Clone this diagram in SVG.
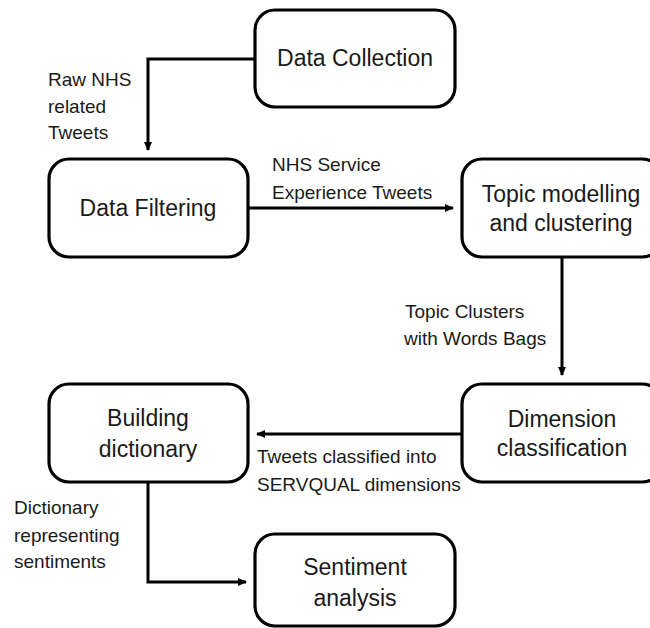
<svg xmlns="http://www.w3.org/2000/svg" width="650" height="628" viewBox="0 0 650 628">
<defs>
<marker id="ah" markerWidth="10" markerHeight="10" refX="8" refY="5" orient="auto" markerUnits="userSpaceOnUse">
<path d="M0,1 L9,5 L0,9 Z" fill="#000"/>
</marker>
<style>
.box{fill:#fff;stroke:#000;stroke-width:3.2}
.t{font-family:"Liberation Sans",Arial,sans-serif;font-size:23px;fill:#1a1a1a;text-anchor:middle}
.l{font-family:"Liberation Sans",Arial,sans-serif;font-size:19px;fill:#1a1a1a}
.c{fill:none;stroke:#000;stroke-width:3}
</style>
</defs>
<rect width="650" height="628" fill="#fff"/>
<g id="connectors">
<path class="c" d="M255,59 H148 V150" marker-end="url(#ah)"/>
<path class="c" d="M248,208 H453" marker-end="url(#ah)"/>
<path class="c" d="M562,257 V375" marker-end="url(#ah)"/>
<path class="c" d="M462,434 H257" marker-end="url(#ah)"/>
<path class="c" d="M148,482 V582 H246" marker-end="url(#ah)"/>
</g>
<g id="labels">
<text class="l" x="48" y="86">Raw NHS</text>
<text class="l" x="48" y="113">related</text>
<text class="l" x="48" y="139">Tweets</text>
<text class="l" x="272" y="171">NHS Service</text>
<text class="l" x="272" y="199">Experience Tweets</text>
<text class="l" x="405" y="318">Topic Clusters</text>
<text class="l" x="404" y="345">with Words Bags</text>
<text class="l" x="257" y="463">Tweets classified into</text>
<text class="l" x="257" y="491">SERVQUAL dimensions</text>
<text class="l" x="14" y="514">Dictionary</text>
<text class="l" x="14" y="542">representing</text>
<text class="l" x="14" y="568">sentiments</text>
</g>
<g id="data-collection">
<rect class="box" x="255" y="10" width="200" height="97" rx="20"/>
<text class="t" x="355" y="66">Data Collection</text>
</g>
<g id="data-filtering">
<rect class="box" x="49" y="159" width="199" height="98" rx="20"/>
<text class="t" x="148" y="216">Data Filtering</text>
</g>
<g id="topic-modelling">
<rect class="box" x="462" y="159" width="200" height="98" rx="20"/>
<text class="t" x="561" y="202">Topic modelling</text>
<text class="t" x="561" y="231">and clustering</text>
</g>
<g id="dimension-classification">
<rect class="box" x="462" y="384" width="200" height="98" rx="20"/>
<text class="t" x="562" y="427">Dimension</text>
<text class="t" x="562" y="456">classification</text>
</g>
<g id="building-dictionary">
<rect class="box" x="49" y="384" width="199" height="98" rx="20"/>
<text class="t" x="148" y="426">Building</text>
<text class="t" x="148" y="457">dictionary</text>
</g>
<g id="sentiment-analysis">
<rect class="box" x="255" y="534" width="200" height="92" rx="20"/>
<text class="t" x="355" y="575">Sentiment</text>
<text class="t" x="355" y="606">analysis</text>
</g>
</svg>
